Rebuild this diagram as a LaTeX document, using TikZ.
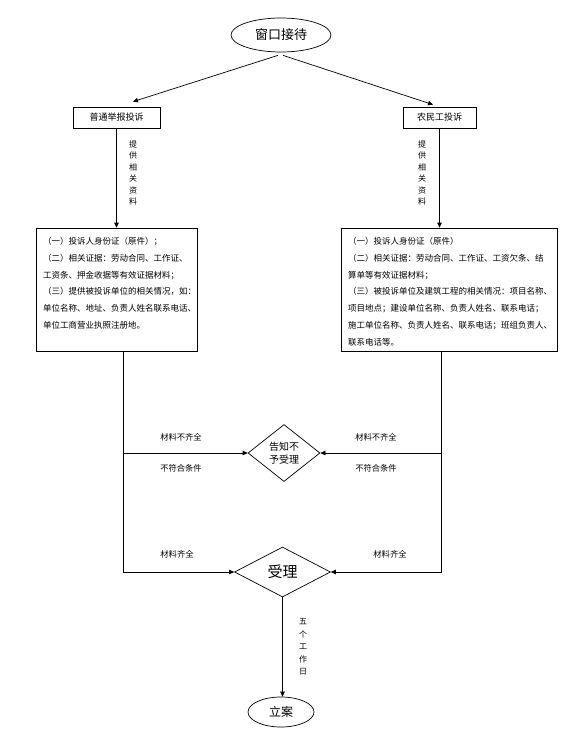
\documentclass[tikz,border=0pt]{standalone}
\usepackage{fontspec}
\newfontfamily\cjk{Noto Sans CJK SC}
\usetikzlibrary{shapes.geometric,arrows.meta}
\newcommand\myfs[2]{\fontsize{#1}{#2}\selectfont}
\begin{document}
\begin{tikzpicture}[x=1pt,y=-1pt,
  lw/.style={line width=0.7pt},
  arr/.style={draw, lw, -{Triangle[length=5pt,width=4.5pt]}},
  term/.style={draw, lw, ellipse, inner sep=0pt},
  smallbox/.style={draw, lw, rectangle, inner sep=0pt, minimum height=21pt, font=\cjk\myfs{9}{11}},
  bigbox/.style={draw, lw, rectangle, inner sep=0pt},
  boxtext/.style={inner sep=0pt, align=left, font=\cjk\myfs{8.5}{16.8}},
  dec/.style={draw, lw, diamond, inner sep=0pt, align=center},
  lbl/.style={inner sep=0pt, font=\cjk\myfs{8.3}{10}},
  vlbl/.style={inner sep=0pt, align=center, font=\cjk\myfs{8}{11.4}}
]
\fill[white] (0,0) rectangle (581,753);
\useasboundingbox (0,0) rectangle (581,753);

\node[term, minimum width=100pt, minimum height=34pt, font=\cjk\myfs{13}{15}] (e1) at (281,35) {窗口接待};
\node[smallbox, minimum width=87pt] (b1) at (116.5,117.5) {普通举报投诉};
\node[smallbox, minimum width=73pt] (b2) at (439.5,117.5) {农民工投诉};

\node[bigbox, minimum width=161pt, minimum height=123pt] (t1) at (116.5,289.5) {};
\node[boxtext, anchor=north west] (t1x) at (43,237) {（一）投诉人身份证（原件）；\\（二）相关证据：劳动合同、工作证、\\工资条、押金收据等有效证据材料；\\（三）提供被投诉单位的相关情况，如：\\单位名称、地址、负责人姓名联系电话、\\单位工商营业执照注册地。};
\node[bigbox, minimum width=216pt, minimum height=123pt] (t2) at (449,289.5) {};
\node[boxtext, anchor=north west] (t2x) at (348,237) {（一）投诉人身份证（原件）\\（二）相关证据：劳动合同、工作证、工资欠条、结\\算单等有效证据材料；\\（三）被投诉单位及建筑工程的相关情况：项目名称、\\项目地点；建设单位名称、负责人姓名、联系电话；\\施工单位名称、负责人姓名、联系电话；班组负责人、\\联系电话等。};

\node[dec, minimum width=72pt, minimum height=57pt, aspect=1.26, font=\cjk\myfs{10}{13}] (d1) at (284,453) {告知不\\予受理};
\node[dec, minimum width=96pt, minimum height=50pt, aspect=1.92, font=\cjk\myfs{15}{17}] (d2) at (282.5,572) {受理};
\node[term, minimum width=66pt, minimum height=30pt, font=\cjk\myfs{12}{14}] (e2) at (281,712) {立案};

\node[vlbl] (v1) at (133,173) {提\\供\\相\\关\\资\\料};
\node[vlbl] (v2) at (422,173) {提\\供\\相\\关\\资\\料};
\node[lbl] (m1) at (181,437) {材料不齐全};
\node[lbl] (m2) at (181,468) {不符合条件};
\node[lbl] (m3) at (376,437) {材料不齐全};
\node[lbl] (m4) at (376,468) {不符合条件};
\node[lbl] (m5) at (177,554) {材料齐全};
\node[lbl] (m6) at (390,554) {材料齐全};
\node[vlbl, font=\cjk\myfs{8}{12.5}] (v3) at (303,647) {五\\个\\工\\作\\日};

\draw[arr] ([xshift=-3pt,yshift=-3pt]e1.south) -- ([xshift=16.5pt,yshift=5pt]b1.north);
\draw[arr] ([xshift=2pt,yshift=-3pt]e1.south) -- ([xshift=-6.5pt,yshift=2pt]b2.north);
\draw[arr] (b1.south) -- (b1.south |- t1.north);
\draw[arr] (b2.south) -- (b2.south |- t2.north);

\coordinate (c1) at ([xshift=6.5pt]t1.south);
\coordinate (c2) at ([xshift=-8pt]t2.south);
\draw[arr] (c1) |- (d2.west);
\draw[arr] (c1 |- d1.west) -- (d1.west);
\draw[arr] (c2) |- (d2.east);
\draw[arr] (c2 |- d1.east) -- (d1.east);
\draw[arr] (d2.south) -- (d2.south |- e2.north);
\end{tikzpicture}
\end{document}
